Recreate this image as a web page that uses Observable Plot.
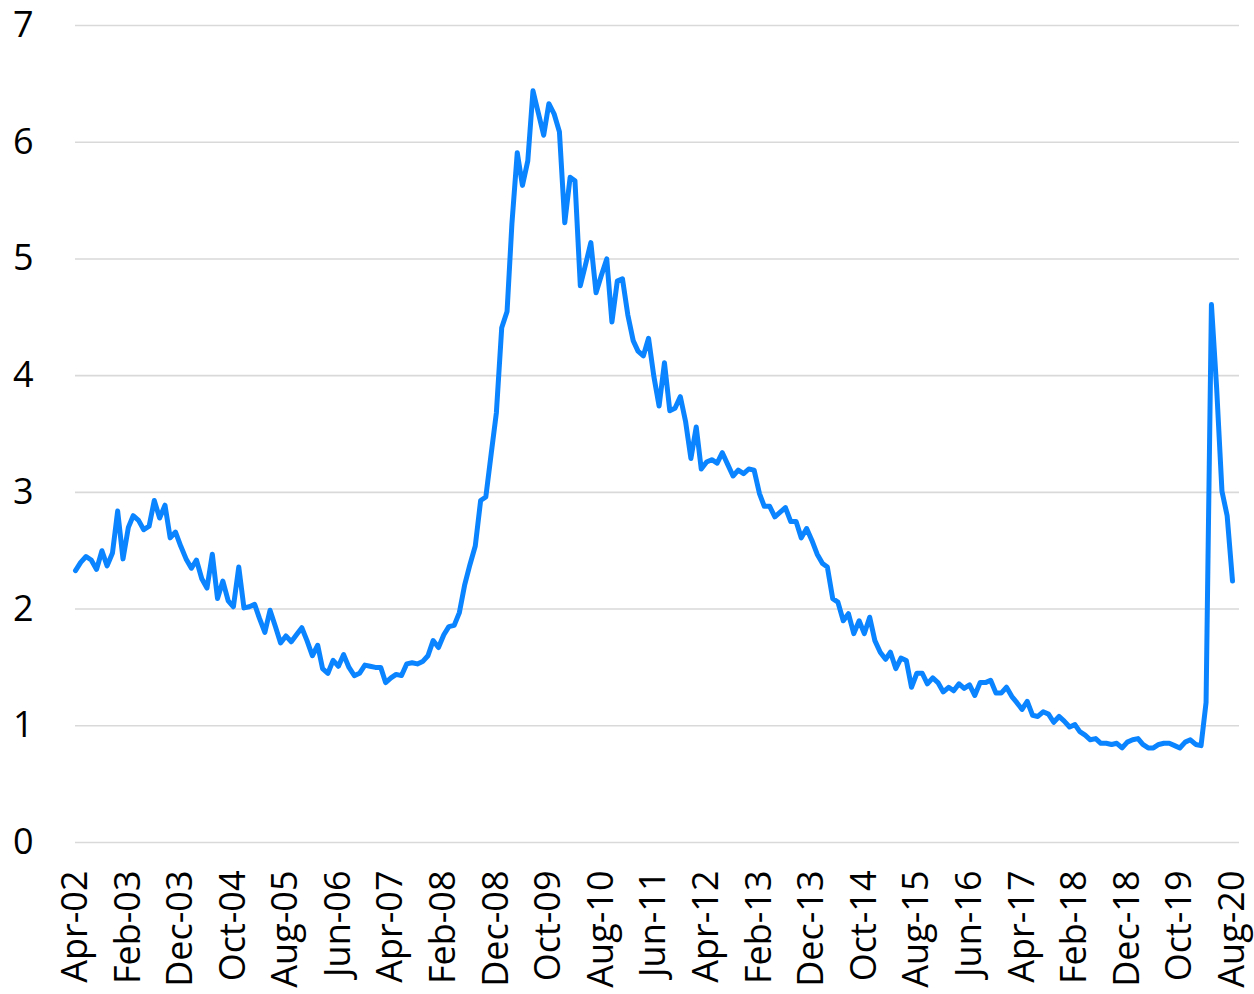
<!DOCTYPE html>
<html>
<head>
<meta charset="utf-8">
<script src="https://cdn.jsdelivr.net/npm/d3@7"></script>
<script src="https://cdn.jsdelivr.net/npm/@observablehq/plot@0.6"></script>
<style>
  html, body { margin: 0; padding: 0; background: #fff; }
  #chart svg { display: block; }
</style>
</head>
<body>
<div id="chart"></div>
<script>
// First month of the series (April 2002), monthly through August 2020
const startYear = 2002;
const startMonthIndex = 3; // April (0-based)

const values = [
  2.33, 2.40, 2.45, 2.42, 2.34, 2.50, 2.37, 2.48, 2.84, 2.43,
  2.70, 2.80, 2.76, 2.68, 2.71, 2.93, 2.78, 2.89, 2.61, 2.66,
  2.54, 2.43, 2.35, 2.42, 2.26, 2.18, 2.47, 2.09, 2.24, 2.07,
  2.02, 2.36, 2.01, 2.02, 2.04, 1.92, 1.80, 1.99, 1.85, 1.71,
  1.77, 1.72, 1.78, 1.84, 1.73, 1.60, 1.69, 1.49, 1.45, 1.56,
  1.51, 1.61, 1.50, 1.43, 1.45, 1.52, 1.51, 1.50, 1.50, 1.37,
  1.41, 1.44, 1.43, 1.53, 1.54, 1.53, 1.55, 1.60, 1.73, 1.67,
  1.78, 1.85, 1.86, 1.97, 2.21, 2.38, 2.54, 2.93, 2.96, 3.33,
  3.68, 4.41, 4.55, 5.30, 5.91, 5.63, 5.84, 6.44, 6.25, 6.06,
  6.33, 6.24, 6.09, 5.31, 5.70, 5.67, 4.77, 4.95, 5.14, 4.71,
  4.86, 5.00, 4.46, 4.81, 4.83, 4.52, 4.30, 4.21, 4.17, 4.32,
  3.99, 3.74, 4.11, 3.70, 3.72, 3.82, 3.61, 3.29, 3.56, 3.20,
  3.26, 3.28, 3.25, 3.34, 3.24, 3.14, 3.19, 3.16, 3.20, 3.19,
  2.99, 2.88, 2.88, 2.79, 2.83, 2.87, 2.75, 2.75, 2.61, 2.69,
  2.59, 2.47, 2.39, 2.36, 2.09, 2.06, 1.90, 1.96, 1.79, 1.90,
  1.79, 1.93, 1.73, 1.63, 1.57, 1.63, 1.49, 1.58, 1.56, 1.33,
  1.45, 1.45, 1.36, 1.41, 1.37, 1.29, 1.33, 1.30, 1.36, 1.32,
  1.35, 1.26, 1.37, 1.37, 1.39, 1.28, 1.28, 1.33, 1.25, 1.20,
  1.14, 1.21, 1.09, 1.08, 1.12, 1.10, 1.03, 1.08, 1.04, 0.99,
  1.01, 0.95, 0.92, 0.88, 0.89, 0.85, 0.85, 0.84, 0.85, 0.81,
  0.86, 0.88, 0.89, 0.84, 0.81, 0.81, 0.84, 0.85, 0.85, 0.83,
  0.81, 0.86, 0.88, 0.84, 0.83, 1.20, 4.61, 3.90, 3.01, 2.80,
  2.24
];

const tickLabels = [
  "Apr-02", "Feb-03", "Dec-03", "Oct-04", "Aug-05", "Jun-06", "Apr-07", "Feb-08",
  "Dec-08", "Oct-09", "Aug-10", "Jun-11", "Apr-12", "Feb-13", "Dec-13", "Oct-14",
  "Aug-15", "Jun-16", "Apr-17", "Feb-18", "Dec-18", "Oct-19", "Aug-20"
];
const tickEvery = 10; // months between labels

const yTicks = [0, 1, 2, 3, 4, 5, 6, 7];

const start = new Date(Date.UTC(startYear, startMonthIndex, 1));
const data = values.map((v, i) => ({ date: d3.utcMonth.offset(start, i), value: v }));
const tickDates = tickLabels.map((_, k) => d3.utcMonth.offset(start, k * tickEvery));
const labelByTime = new Map(tickDates.map((d, k) => [+d, tickLabels[k]]));

const chart = Plot.plot({
  width: 1254,
  height: 994,
  marginLeft: 75,
  marginRight: 15,
  insetRight: 7,
  marginTop: 25,
  marginBottom: 152,
  style: { fontFamily: "'Open Sans', 'Noto Sans', sans-serif", fontSize: "36px", color: "#000", background: "#fff" },
  x: {
    type: "utc",
    domain: [data[0].date, data[data.length - 1].date],
    ticks: tickDates,
    tickFormat: d => labelByTime.get(+d),
    tickRotate: -90,
    tickSize: 0,
    tickPadding: 28,
    label: null
  },
  y: {
    domain: [0, 7],
    ticks: yTicks,
    tickFormat: d => String(d),
    tickSize: 0,
    tickPadding: 42,
    label: null
  },
  marks: [
    Plot.gridY(yTicks, { stroke: "#d9d9d9", strokeOpacity: 1, strokeWidth: 1.6 }),
    Plot.lineY(data, { x: "date", y: "value", stroke: "#0a84ff", strokeWidth: 5, strokeLinejoin: "round", strokeLinecap: "round" })
  ]
});
document.getElementById("chart").appendChild(chart);
</script>
</body>
</html>
